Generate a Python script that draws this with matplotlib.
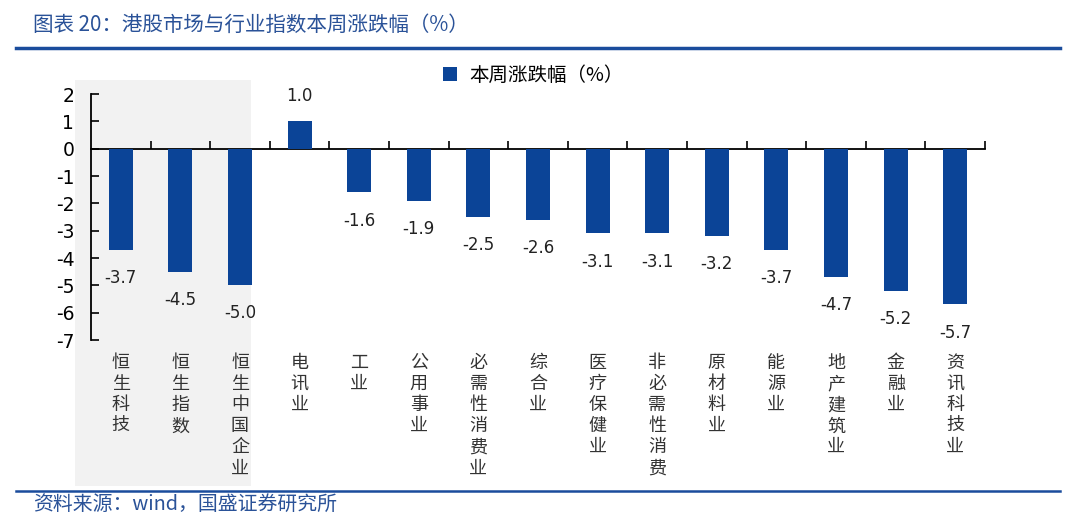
import matplotlib
matplotlib.use("Agg")
import matplotlib.pyplot as plt
from matplotlib.patches import Rectangle
from matplotlib.lines import Line2D
import matplotlib.transforms as mtransforms

plt.rcParams['font.family'] = ['Noto Sans CJK SC', 'DejaVu Sans']

categories = ["恒生科技", "恒生指数", "恒生中国企业", "电讯业", "工业", "公用事业",
              "必需性消费业", "综合业", "医疗保健业", "非必需性消费", "原材料业",
              "能源业", "地产建筑业", "金融业", "资讯科技业"]
values = [-3.7, -4.5, -5.0, 1.0, -1.6, -1.9, -2.5, -2.6, -3.1, -3.1, -3.2,
          -3.7, -4.7, -5.2, -5.7]
y_ticks = [2, 1, 0, -1, -2, -3, -4, -5, -6, -7]
series_name = "本周涨跌幅（%）"
title = "图表 20：港股市场与行业指数本周涨跌幅（%）"
source = "资料来源：wind，国盛证券研究所"

W, H = 1080, 519
fig = plt.figure(figsize=(W/100, H/100), dpi=100)

blue_dark = "#0B4497"
text_blue = "#2A5298"

# gray band behind first three categories
fig.patches.append(Rectangle((75/W, 1-486/H), (251-75)/W, (486-80)/H,
                             transform=fig.transFigure, facecolor="#F2F2F2",
                             edgecolor="none", zorder=-5))

ax = fig.add_axes([91/W, 1-340/H, (985-91)/W, (340-94)/H])
ax.set_zorder(1)
ax.patch.set_visible(False)
x = list(range(len(categories)))
ax.bar(x, values, width=0.4, color=blue_dark, zorder=3, label=series_name)
ax.set_xlim(-0.5, len(categories)-0.5)
ax.set_ylim(-7, 2)
ax.set_yticks(y_ticks)
ax.set_yticklabels([str(v) for v in y_ticks], fontsize=13.5, family="DejaVu Sans")
ax.tick_params(axis='y', direction='in', length=6, width=1.2, pad=12, colors='black')
ax.spines['top'].set_visible(False)
ax.spines['right'].set_visible(False)
ax.spines['bottom'].set_position(('data', 0))
ax.spines['left'].set_linewidth(1.3)
ax.spines['bottom'].set_linewidth(1.3)
ax.set_xticks([i + 0.5 for i in range(len(categories))])
ax.set_xticklabels([])
ax.tick_params(axis='x', direction='in', length=6, width=1.2)

for xi, v in zip(x, values):
    if v >= 0:
        ax.text(xi, v + 0.6, f"{v:.1f}", ha='center', va='bottom', fontsize=12,
                family="DejaVu Sans", color='#222222')
    else:
        ax.text(xi, v - 0.7, f"{v:.1f}", ha='center', va='top', fontsize=12,
                family="DejaVu Sans", color='#222222')

trans = mtransforms.blended_transform_factory(ax.transData, fig.transFigure)
for xi, c in zip(x, categories):
    ax.text(xi, 1-354/H, "\n".join(c), transform=trans, ha='center', va='top',
            fontsize=13, linespacing=1.22, color='#333333')

leg = fig.legend(*ax.get_legend_handles_labels(), loc='center',
                 bbox_to_anchor=(533/W, 1-75/H), bbox_transform=fig.transFigure,
                 frameon=False, fontsize=14, handlelength=0.75, handleheight=0.75,
                 handletextpad=0.6)

fig.text(33/W, 1-25/H, title, fontsize=14.8, color=text_blue, va='center', ha='left')
fig.add_artist(Line2D([16/W, 1060/W], [1-48/H, 1-48/H], transform=fig.transFigure,
                      color="#1A4C9C", linewidth=2.5))
fig.add_artist(Line2D([16/W, 1060/W], [1-491/H, 1-491/H], transform=fig.transFigure,
                      color="#1A4C9C", linewidth=1.8))
fig.text(33/W, 1-504/H, source, fontsize=14.3, color=text_blue, va='center', ha='left')

fig.savefig("out.png", dpi=100)
